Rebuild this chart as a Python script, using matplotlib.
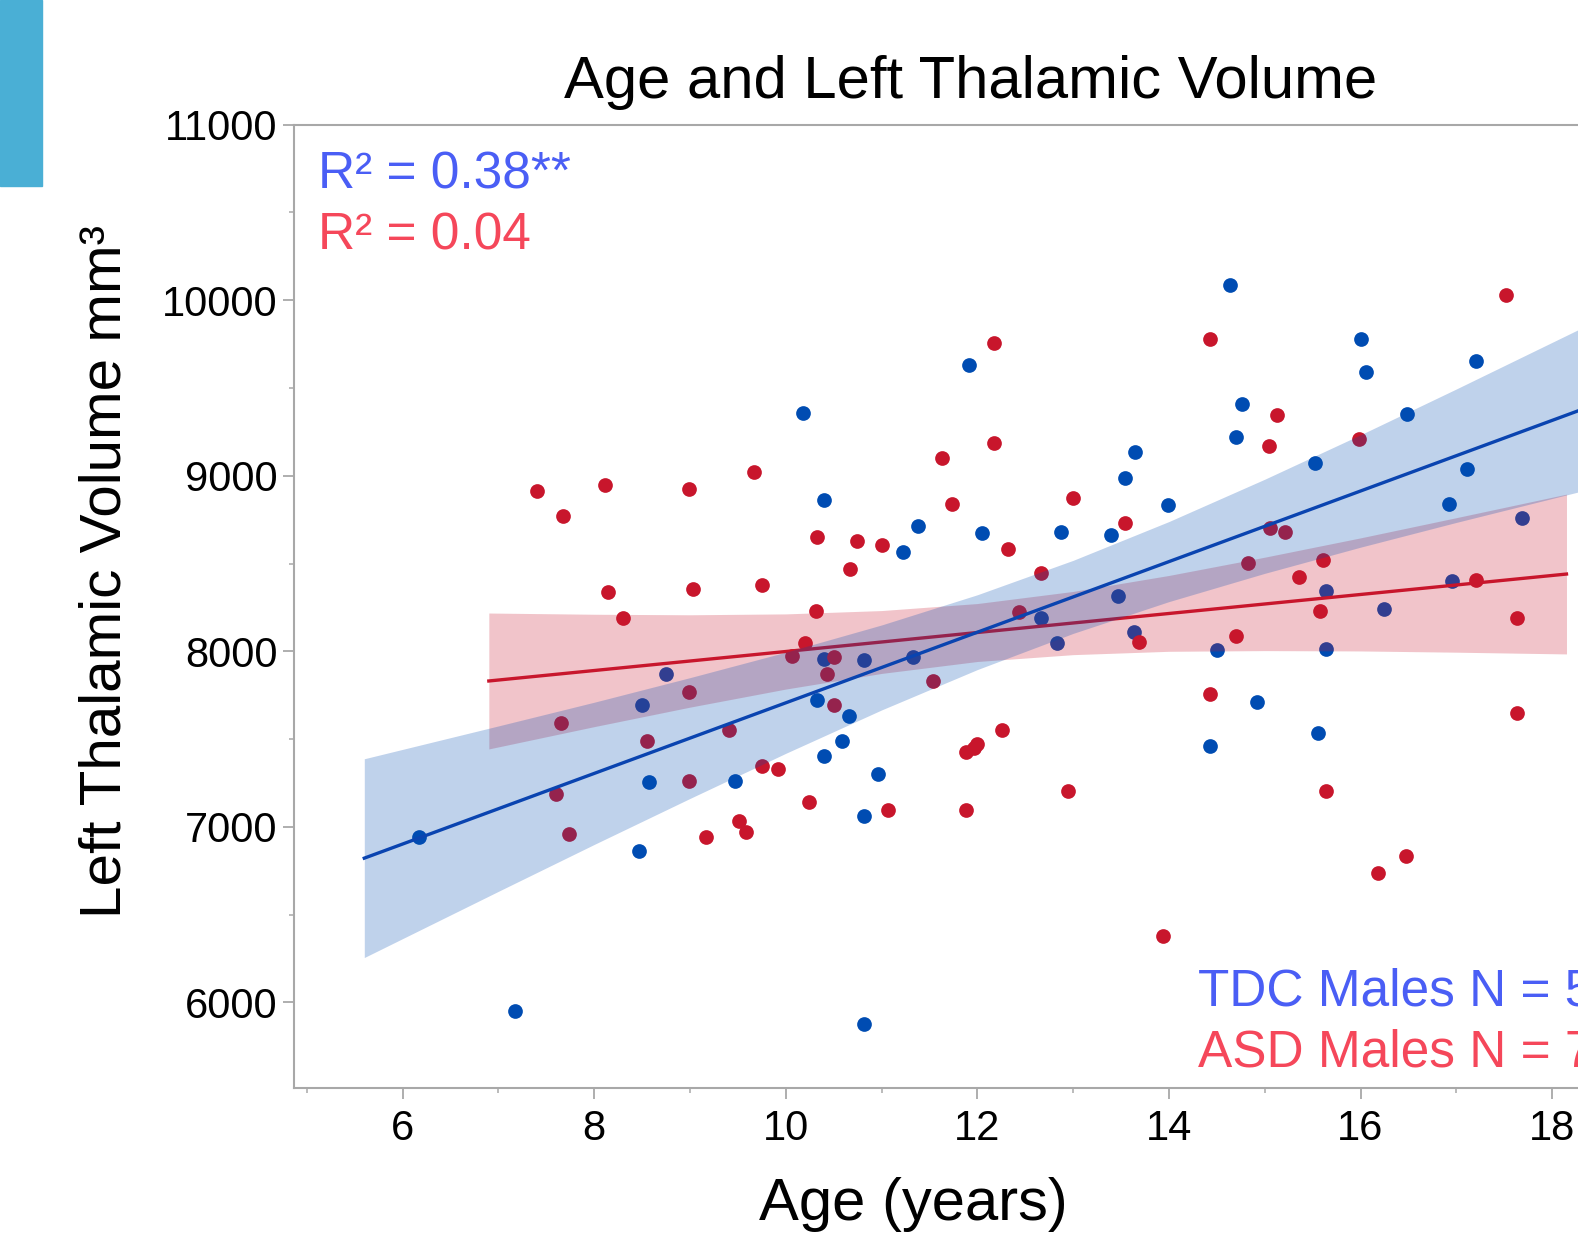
import matplotlib
matplotlib.use("Agg")
import matplotlib.pyplot as plt
from matplotlib.patches import Rectangle
from matplotlib.ticker import MultipleLocator

# TDC males (blue)
tdc_age = [6.17, 7.17, 8.47, 8.50, 8.57, 8.75, 9.47, 10.18, 10.40, 10.33,
           10.40, 10.40, 10.59, 10.66, 10.82, 10.82, 10.82, 10.96, 11.22, 11.38,
           11.33, 11.91, 12.05, 12.66, 12.83, 12.87, 13.39, 13.47, 13.54, 13.65,
           13.63, 13.99, 14.43, 14.50, 14.64, 14.70, 14.76, 14.92, 15.52, 15.56,
           15.64, 15.64, 16.00, 16.06, 16.24, 16.48, 16.92, 16.96, 17.11, 17.21,
           17.69]
tdc_vol = [6941, 5949, 6860, 7692, 7256, 7869, 7262, 9359, 8861, 7720,
           7955, 7405, 7491, 7634, 7949, 7061, 5875, 7302, 8568, 8712,
           7967, 9629, 8672, 8190, 8047, 8677, 8660, 8316, 8987, 9136,
           8110, 8832, 7462, 8007, 10087, 9222, 9411, 7714, 9073, 7537,
           8345, 8012, 9778, 9588, 8242, 9353, 8838, 8402, 9038, 9651,
           8757]

# ASD males (red)
asd_age = [7.40, 7.67, 7.65, 7.60, 7.74, 8.11, 8.14, 8.30, 8.55, 8.99,
           9.03, 8.99, 8.99, 9.17, 9.41, 9.51, 9.58, 9.67, 9.75, 9.75,
           9.92, 10.07, 10.20, 10.24, 10.32, 10.33, 10.43, 10.50, 10.50, 10.67,
           10.74, 11.00, 11.07, 11.54, 11.63, 11.74, 11.88, 11.88, 11.96, 12.00,
           12.17, 12.17, 12.26, 12.32, 12.43, 12.66, 12.95, 13.00, 13.54, 13.69,
           13.94, 14.43, 14.43, 14.70, 14.83, 15.04, 15.06, 15.21, 15.13, 15.36,
           15.58, 15.61, 15.64, 15.98, 16.18, 16.47, 17.21, 17.52, 17.63, 17.63]
asd_vol = [8912, 8769, 7594, 7187, 6958, 8947, 8339, 8190, 7491, 8924,
           8356, 7766, 7262, 6945, 7554, 7032, 6969, 9021, 8379, 7348,
           7330, 7972, 8047, 7141, 8230, 8649, 7869, 7966, 7692, 8471,
           8626, 8608, 7095, 7829, 9101, 8837, 7428, 7095, 7451, 7474,
           9755, 9187, 7554, 8585, 8224, 8448, 7204, 8872, 8729, 8053,
           6379, 9778, 7755, 8087, 8505, 9170, 8700, 8677, 9348, 8425,
           8230, 8522, 7204, 9210, 6740, 6832, 8408, 10030, 8190, 7646]

# fit lines and 95% bands
tdc_fit_age = [5.6, 19.0]
tdc_fit_vol = [6822, 9516]
tdc_band_age = [5.6, 7, 8, 9, 10, 11, 12, 13, 14, 15, 16, 17, 18.3, 19]
tdc_band_lo = [6256, 6633, 6900, 7162, 7419, 7666, 7896, 8102, 8283, 8444, 8593, 8734, 8911, 9005]
tdc_band_hi = [7388, 7575, 7710, 7850, 7995, 8150, 8322, 8518, 8739, 8980, 9233, 9494, 9839, 10027]

asd_fit_age = [6.9, 18.15]
asd_fit_vol = [7831, 8440]
asd_band_age = [6.9, 8, 9, 10, 11, 12, 13, 14, 15, 16, 17, 18.15]
asd_band_lo = [7444, 7571, 7682, 7785, 7874, 7942, 7981, 8000, 8004, 8002, 7995, 7985]
asd_band_hi = [8218, 8211, 8208, 8213, 8232, 8272, 8341, 8432, 8536, 8646, 8761, 8895]

blue = "#004cb2"
red = "#c8162c"
blue_txt = "#4a5ef5"
red_txt = "#f5475a"
grey = "#a8a8a8"

plt.rcParams["font.family"] = ["Liberation Sans", "DejaVu Sans"]

fig = plt.figure(figsize=(15.78, 12.33), dpi=100)
fig.patches.append(Rectangle((0, 1 - 186 / 1233), 42 / 1578, 186 / 1233,
                             transform=fig.transFigure, color="#4aafd5", zorder=0))

ax = fig.add_axes([0.1863, 0.1176, 0.858, 0.7814])
ax.set_xlim(4.866, 19.0)
ax.set_ylim(5513, 11000)

ax.scatter(tdc_age, tdc_vol, s=112, color=blue, linewidths=0, zorder=2)
ax.scatter(asd_age, asd_vol, s=112, color=red, linewidths=0, zorder=2)
ax.fill_between(asd_band_age, asd_band_lo, asd_band_hi, color=red, alpha=0.25, linewidth=0, zorder=3)
ax.plot(asd_fit_age, asd_fit_vol, color=red, linewidth=2.4, zorder=4)
ax.fill_between(tdc_band_age, tdc_band_lo, tdc_band_hi, color=blue, alpha=0.25, linewidth=0, zorder=5)
ax.plot(tdc_fit_age, tdc_fit_vol, color="#0a44b0", linewidth=2.4, zorder=6)

for side in ["left", "bottom", "top"]:
    ax.spines[side].set_color(grey)
    ax.spines[side].set_linewidth(1.5)
ax.spines["right"].set_visible(False)

ax.xaxis.set_major_locator(MultipleLocator(2))
ax.xaxis.set_minor_locator(MultipleLocator(1))
ax.yaxis.set_major_locator(MultipleLocator(1000))
ax.yaxis.set_minor_locator(MultipleLocator(500))
ax.tick_params(which="major", direction="out", length=8, width=1.3, color=grey, labelsize=30)
ax.tick_params(which="minor", direction="out", length=3.6, width=1.1, color=grey)
ax.tick_params(axis="x", which="major", pad=7)
ax.tick_params(axis="y", which="major", pad=4)
ax.tick_params(top=False, which="both")

fig.text(971 / 1578, 1 - 97.6 / 1233, "Age and Left Thalamic Volume",
         ha="center", va="baseline", fontsize=43)
fig.text(913 / 1578, 1 - 1220 / 1233, "Age (years)",
         ha="center", va="baseline", fontsize=43)
fig.text(120.8 / 1578, 1 - 571 / 1233, "Left Thalamic Volume mm\u00b3",
         ha="center", va="baseline", rotation=90, rotation_mode="anchor", fontsize=42)

fig.text(318 / 1578, 1 - 188.3 / 1233, "R\u00b2 = 0.38**",
         ha="left", va="baseline", fontsize=37, color=blue_txt)
fig.text(318 / 1578, 1 - 250 / 1233, "R\u00b2 = 0.04",
         ha="left", va="baseline", fontsize=37, color=red_txt)
fig.text(1198 / 1578, 1 - 1006 / 1233, "TDC Males N = 51",
         ha="left", va="baseline", fontsize=37, color=blue_txt)
fig.text(1198 / 1578, 1 - 1066.7 / 1233, "ASD Males N = 70",
         ha="left", va="baseline", fontsize=37, color=red_txt)

fig.savefig("out.png", dpi=100)
